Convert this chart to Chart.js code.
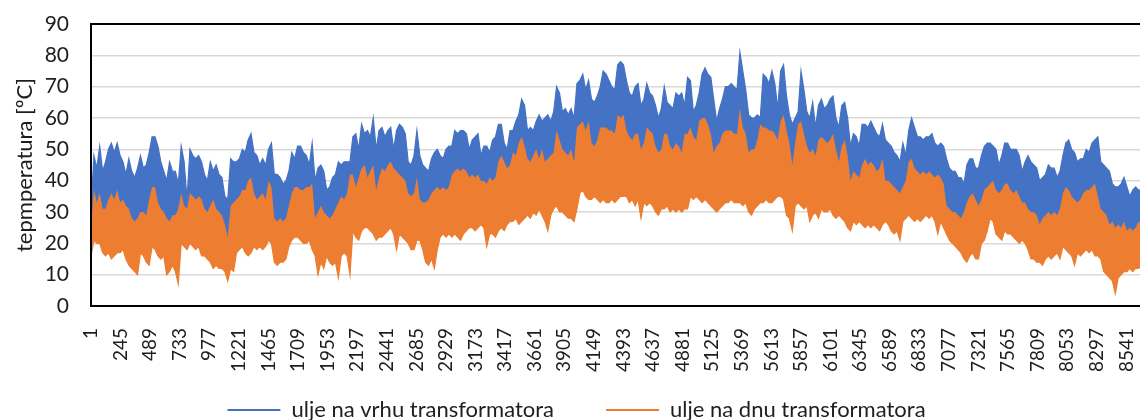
<!DOCTYPE html>
<html lang="hr">
<head>
<meta charset="utf-8">
<title>Temperatura ulja transformatora</title>
<script src="https://cdn.jsdelivr.net/npm/chart.js@4.4.1/dist/chart.umd.min.js"></script>
<style>
  html, body { margin: 0; padding: 0; background: #fff; overflow: hidden; }
  #okvir { width: 1165px; height: 420px; }
</style>
</head>
<body>
<div id="okvir"><canvas id="grafTemp"></canvas></div>
<script>
'use strict';

// ─── PODACI (dnevni ekstremi, sat 1 .. 8760) ───────────────────

// ulje na vrhu – dnevni maksimum [ºC]
const vrhMaks = [
  30,48,44,51,43,46,50,52,49,52, 48,46,42,47,43,41,44,48,44,45,
  49,54,54,51,46,43,40,46,43,43, 39,51,46,34,50,48,47,48,46,42,
  40,46,43,45,42,41,35,34,47,46, 46,47,50,49,53,55,49,48,45,47,
  45,50,52,42,42,41,39,40,43,49, 47,51,51,49,48,45,52,40,44,45,
  43,37,38,41,42,46,45,46,46,46, 54,55,50,58,55,56,54,60,50,56,
  57,54,56,57,50,56,58,57,55,46, 45,48,56,48,45,44,43,47,49,50,
  48,47,50,51,51,56,55,56,56,55, 50,53,54,55,48,51,51,49,53,54,
  58,58,52,50,56,56,59,61,66,64, 56,57,56,59,61,59,60,61,59,62,
  70,68,62,63,61,63,60,71,72,74, 69,72,66,65,67,70,75,74,72,70,
  69,77,78,77,72,68,67,70,71,64, 66,71,68,67,64,60,63,70,65,64,
  63,68,67,68,64,73,72,62,64,68, 74,76,74,73,66,59,63,66,70,70,
  71,70,69,81,75,69,61,60,60,61, 60,74,73,71,75,71,63,75,77,67,
  61,58,60,62,75,69,62,60,65,57, 64,66,63,64,66,67,60,57,64,65,
  60,51,55,54,51,58,58,57,59,57, 55,54,58,53,52,51,49,48,46,52,
  48,56,60,57,54,54,53,54,54,55, 52,51,52,51,47,44,43,43,41,41,
  39,45,47,47,44,44,48,51,52,52, 51,50,45,48,52,52,50,50,50,48,
  43,46,48,46,45,44,40,41,42,45, 44,44,41,43,48,52,53,50,49,46,
  47,47,50,49,52,53,54,46,45,44, 43,39,38,38,39,41,38,35,37,38,
  37,37,38,36,37
];

// ulje na dnu – dnevni maksimum [ºC]
const dnoMaks = [
  25,37,33,36,31,31,34,36,34,37, 33,34,32,31,28,27,28,30,30,29,
  34,38,38,33,31,30,28,27,29,29, 31,36,32,31,36,35,34,35,34,31,
  30,32,34,31,30,29,26,22,32,33, 34,35,37,37,40,41,36,34,35,36,
  34,40,38,28,27,28,27,28,32,36, 38,38,37,37,38,38,39,28,30,32,
  30,29,28,29,31,33,35,34,36,42, 42,38,41,44,45,41,43,45,37,41,
  44,43,45,46,44,43,42,41,40,36, 35,36,41,34,33,33,34,36,37,38,
  37,38,37,38,42,43,44,43,44,43, 41,42,41,42,40,40,39,41,40,41,
  46,48,46,44,45,49,48,52,54,51, 47,46,48,50,47,50,46,47,48,49,
  56,53,50,49,48,50,46,57,58,59, 56,59,52,51,53,57,57,57,56,56,
  55,61,60,61,56,54,53,55,55,50, 52,57,56,55,51,49,50,55,55,51,
  50,52,51,49,55,55,57,54,53,59, 60,60,58,55,49,51,52,55,56,56,
  56,55,55,63,57,55,49,50,50,53, 58,57,57,56,56,55,53,59,61,56,
  52,45,52,58,59,55,51,49,50,48, 53,54,53,52,53,55,50,46,51,53,
  48,40,43,42,41,45,47,45,46,45, 43,44,47,40,40,39,38,37,36,38,
  40,46,47,44,43,42,43,42,43,42, 41,42,41,39,32,31,30,30,29,28,
  30,33,35,36,34,32,34,37,38,39, 40,37,36,37,39,39,37,36,37,35,
  33,33,31,30,30,29,26,28,29,30, 29,30,29,31,36,38,37,35,34,33,
  34,36,37,37,38,39,35,31,30,29, 26,27,25,26,25,27,24,25,24,25,
  27,26,27,25,26
];

// ulje na dnu – dnevni minimum [ºC]
const dnoMin = [
  16,21,20,20,17,16,17,15,16,17, 17,18,15,13,12,11,10,17,16,14,
  13,19,18,16,15,16,10,11,13,11,  7,20,19,18,20,19,18,19,16,16,
  15,14,12,13,12,12,11, 8,12,11, 17,18,19,17,16,17,19,18,19,18,
  19,21,20,14,13,14,14,15,19,21, 22,22,21,20,20,21,18,16,10,14,
  12,16,14,13,14, 9,16,17,16,10, 24,22,21,24,25,25,24,23,21,22,
  22,23,24,25,23,18,23,22,21,20, 18,18,21,21,18,14,13,15,12,18,
  22,23,22,23,22,23,22,21,23,24, 25,25,24,25,26,25,19,23,23,22,
  24,25,24,26,27,27,28,26,27,28, 29,28,30,29,31,29,27,24,29,31,
  32,30,30,29,28,28,27,31,36,37, 35,34,34,35,34,33,34,33,33,34,
  33,34,35,35,35,33,34,32,34,28, 33,32,33,32,30,29,31,31,32,30,
  31,30,31,30,31,31,35,34,35,34, 33,34,33,32,31,30,31,32,33,33,
  34,33,33,33,32,33,30,29,31,32, 33,33,34,33,33,34,35,35,34,29,
  28,24,32,33,32,31,32,27,29,30, 28,31,30,30,31,29,28,29,28,27,
  25,24,27,26,27,26,25,26,25,26, 25,24,26,27,26,24,23,24,21,27,
  28,29,28,27,28,27,28,29,28,29, 27,23,27,25,23,21,20,19,18,17,
  15,14,16,17,15,15,20,21,24,28, 27,23,22,21,24,23,23,22,21,20,
  21,20,18,15,15,14,14,13,15,16, 15,16,17,15,19,18,17,16,13,17,
  16,17,18,17,18,16,16,15,11,10,  9, 8, 4, 9,10,11,11,12,11,12,
  12,13,12,13,12
];

// oznake na osi x (sat u godini)
const satOznake = [
  1, 245, 489, 733, 977, 1221, 1465, 1709, 1953, 2197, 2441, 2685,
  2929, 3173, 3417, 3661, 3905, 4149, 4393, 4637, 4881, 5125, 5369, 5613,
  5857, 6101, 6345, 6589, 6833, 7077, 7321, 7565, 7809, 8053, 8297, 8541
];

const NAZIV_VRH = 'ulje na vrhu transformatora';
const NAZIV_DNO = 'ulje na dnu transformatora';

// ─── STIL ─────────────────────────────────────────────────────

const BOJA_VRH = '#4472c4';
const BOJA_DNO = '#ed7d31';
const BOJA_TEKST = '#1e1e1e';

Chart.defaults.font.family = "Lato, 'Open Sans', sans-serif";
Chart.defaults.color = BOJA_TEKST;

// svaki dan na svom satu (1, 25, 49, ...)
const sati = vrhMaks.map((_, i) => 1 + 24 * i);
const uTocke = niz => niz.map((v, i) => ({ x: sati[i], y: v }));

// crni okvir oko područja crtanja
const okvirPlugin = {
  id: 'okvirPodrucja',
  afterDatasetsDraw(chart) {
    const { ctx, chartArea: a } = chart;
    ctx.save();
    ctx.strokeStyle = '#000';
    ctx.lineWidth = 2;
    ctx.strokeRect(a.left, a.top, a.right - a.left, a.bottom - a.top);
    ctx.restore();
  }
};

// legenda: veliki razmak među stavkama, ali red ostaje pri dnu
const legendaPlugin = {
  id: 'legendaDno',
  afterLayout(chart) {
    const lg = chart.legend;
    lg.top = lg.bottom - 73;
  }
};

// ─── GRAF ─────────────────────────────────────────────────────

new Chart(document.getElementById('grafTemp'), {
  type: 'line',
  data: {
    datasets: [
      {
        label: NAZIV_VRH,
        data: uTocke(vrhMaks),
        borderColor: BOJA_VRH,
        backgroundColor: BOJA_VRH,
        borderWidth: 1.2,
        fill: '+1'
      },
      {
        label: NAZIV_DNO,
        data: uTocke(dnoMaks),
        borderColor: BOJA_DNO,
        backgroundColor: BOJA_DNO,
        borderWidth: 1.2,
        fill: '+1'
      },
      {
        label: 'dno_min',
        data: uTocke(dnoMin),
        borderColor: BOJA_DNO,
        backgroundColor: BOJA_DNO,
        borderWidth: 1.2,
        fill: false
      }
    ]
  },
  options: {
    responsive: true,
    maintainAspectRatio: false,
    animation: false,
    events: [],
    elements: {
      point: { radius: 0 },
      line: { tension: 0 }
    },
    layout: { padding: { top: 24, right: 12, left: 0, bottom: 0 } },
    plugins: {
      tooltip: { enabled: false },
      legend: {
        position: 'bottom',
        maxHeight: 40,
        labels: {
          usePointStyle: true,
          pointStyle: 'line',
          pointStyleWidth: 53,
          padding: 52,
          font: { size: 22 },
          color: BOJA_TEKST,
          generateLabels(chart) {
            const osnovne = Chart.defaults.plugins.legend.labels.generateLabels(chart);
            return osnovne
              .filter(s => s.datasetIndex < 2)
              .map(s => ({ ...s, lineWidth: 2, pointStyle: 'line' }));
          }
        }
      }
    },
    scales: {
      x: {
        type: 'linear',
        min: 1,
        max: 8760,
        grid: { display: false },
        border: { display: false },
        afterBuildTicks: s => { s.ticks = satOznake.map(v => ({ value: v })); },
        afterFit: s => { s.height = 74; },
        ticks: {
          autoSkip: false,
          minRotation: 90,
          maxRotation: 90,
          padding: 14,
          font: { size: 19 },
          callback: v => String(v)
        }
      },
      y: {
        min: 0,
        max: 90,
        grid: { color: '#d9d9d9', lineWidth: 1.5, drawTicks: false },
        border: { display: false },
        afterFit: s => {
          s.width = 91;
          s.paddingTop = 0;
          s.paddingBottom = 0;
        },
        ticks: {
          stepSize: 10,
          padding: 22,
          font: { size: 21 }
        },
        title: {
          display: true,
          text: 'tepmperatura [ºC]',
          font: { size: 22 },
          padding: { top: 12, bottom: 0 }
        }
      }
    }
  },
  plugins: [okvirPlugin, legendaPlugin]
});
</script>
</body>
</html>
